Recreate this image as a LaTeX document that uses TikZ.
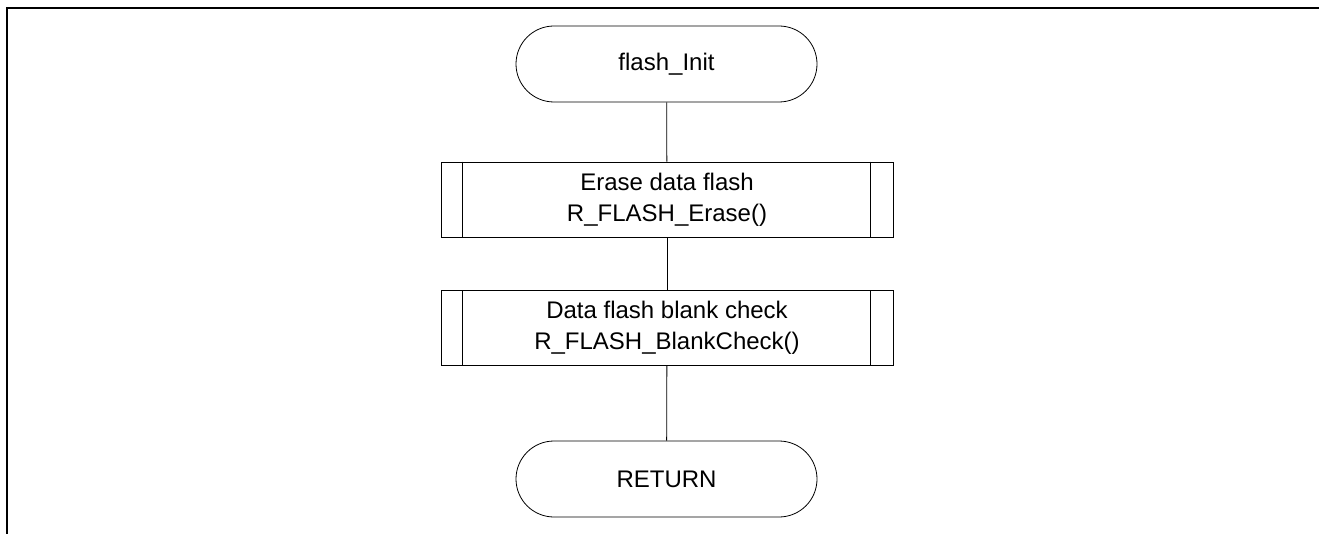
\documentclass[tikz,border=0pt]{standalone}
\usepackage{fontspec}
\setmainfont{Liberation Sans}
\tikzset{
  every node/.style={font=\fontsize{18}{23}\selectfont},
  term/.style={shape=rectangle,draw=black,line width=0.6pt,rounded corners=28.5pt,
    minimum width=225.75pt,minimum height=57pt,inner sep=0pt},
  proc/.style={shape=rectangle,draw=black,line width=0.6pt,align=center,
    minimum width=339pt,minimum height=56.25pt,inner sep=0pt},
}
\begin{document}
\begin{tikzpicture}[x=0.75pt,y=-0.75pt]
  \useasboundingbox (0,0) rectangle (1319,534);
  \draw[line width=1.5pt] (1319,8.5) -- (6.5,8.5) -- (6.5,534);

  \node[term] (init) at (666.5,64) {flash\_Init};
  \node[proc] (erase) at (667,199.5) {Erase data flash\\R\_FLASH\_Erase()};
  \node[proc] (check) at (667,328) {Data flash blank check\\R\_FLASH\_BlankCheck()};
  \node[term] (ret) at (666.5,479) {RETURN};

  % side bars of the predefined process boxes
  \foreach \b in {erase,check} {
    \draw[line width=0.5pt] ([xshift=16.5pt]\b.north west) -- ([xshift=16.5pt]\b.south west);
    \draw[line width=0.5pt] ([xshift=-17pt]\b.north east) -- ([xshift=-17pt]\b.south east);
  }

  \path[line width=0.6pt] (init) edge (erase);
  \path[line width=0.6pt] (erase) edge (check);
  \path[line width=0.6pt] (check) edge (ret);
\end{tikzpicture}
\end{document}
